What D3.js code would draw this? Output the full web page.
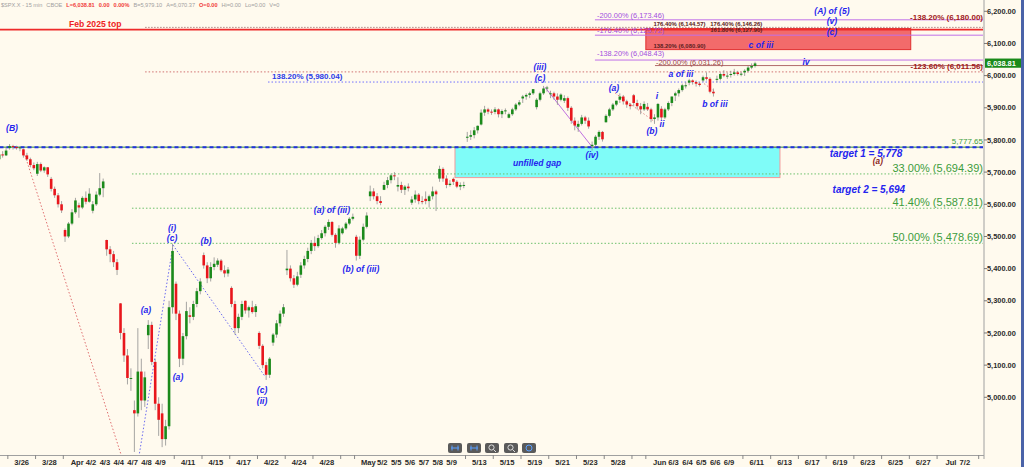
<!DOCTYPE html>
<html><head><meta charset="utf-8">
<script src="https://cdn.jsdelivr.net/npm/d3@7"></script>
<style>
html,body{margin:0;padding:0;background:#fffaee;overflow:hidden;}
svg{display:block;font-family:"Liberation Sans",Arial,sans-serif;}
</style></head><body>
<svg id="c" width="1024" height="467"></svg>
<script>
// ---------- DATA ----------
const tradingDays = ["3/24","3/25","3/26","3/27","3/28","3/31","4/1","4/2","4/3","4/4","4/7","4/8","4/9","4/10","4/11","4/14","4/15","4/16","4/17","4/21","4/22","4/23","4/24","4/25","4/28","4/29","4/30","5/1","5/2","5/5","5/6","5/7","5/8","5/9","5/12","5/13","5/14","5/15","5/16","5/19","5/20","5/21","5/22","5/23","5/27","5/28","5/29","5/30","6/2","6/3","6/4","6/5","6/6","6/9","6/10","6/11","6/12","6/13","6/16","6/17","6/18","6/19","6/20","6/23","6/24","6/25","6/26","6/27","6/30","7/1","7/2","7/3"];
const xLabelDays = ["3/26","3/28","4/1","4/2","4/3","4/4","4/7","4/8","4/9","4/11","4/15","4/17","4/22","4/24","4/28","5/1","5/2","5/5","5/6","5/7","5/8","5/9","5/13","5/15","5/19","5/21","5/23","5/28","6/2","6/3","6/4","6/5","6/6","6/9","6/11","6/13","6/17","6/19","6/23","6/25","6/27","7/1","7/2"];
const xLabelText = ["3/26","3/28","Apr","4/2","4/3","4/4","4/7","4/8","4/9","4/11","4/15","4/17","4/22","4/24","4/28","May","5/2","5/5","5/6","5/7","5/8","5/9","5/13","5/15","5/19","5/21","5/23","5/28","Jun","6/3","6/4","6/5","6/6","6/9","6/11","6/13","6/17","6/19","6/23","6/25","6/27","Jul","7/2"];
const yTicks = [5000,5100,5200,5300,5400,5500,5600,5700,5800,5900,6000,6100,6200];
const lastPrice = 6038.81;

// sessions: day, open, bars [high, low, close]
const sessionDays = ["3/24","3/25","3/26","3/27","3/28","3/31","4/1","4/2","4/3","4/4","4/7","4/8","4/9","4/10","4/11","4/14","4/15","4/16","4/17","4/21","4/22","4/23","4/24","4/25","4/28","4/29","4/30","5/1","5/2","5/5","5/6","5/7","5/8","5/9","5/12","5/13","5/14","5/15","5/16","5/19","5/20","5/21","5/22","5/23","5/27","5/28","5/29","5/30","6/2","6/3","6/4","6/5","6/6","6/9","6/10"];
const sessionOpens = [5740,5775,5771,5695,5679,5520,5597,5580,5489,5292,4960,5193,4950,5353,5255,5442,5412,5340,5300,5200,5170,5395,5381,5480,5530,5510,5499,5625,5645,5655,5605,5617,5680,5679,5808,5848,5887,5869,5929,5902,5944,5922,5841,5781,5855,5925,5939,5903,5897,5938,5978,5985,5987,6005,6010];
const sessionBars = [
 [[5745,5715,5740],[5760,5735,5755],[5765,5745,5752],[5775,5750,5767]],
 [[5787,5770,5781],[5785,5770,5778],[5782,5770,5775],[5780,5765,5777]],
 [[5773,5745,5752],[5760,5735,5740],[5745,5715,5722],[5730,5706,5712]],
 [[5732,5688,5725],[5730,5700,5705],[5718,5698,5715],[5716,5685,5693]],
 [[5685,5640,5648],[5655,5620,5628],[5635,5590,5600],[5610,5573,5581]],
 [[5525,5483,5500],[5545,5495,5540],[5585,5535,5575],[5620,5570,5612]],
 [[5605,5558,5590],[5625,5585,5620],[5640,5600,5608],[5650,5605,5633]],
 [[5610,5572,5600],[5640,5595,5630],[5697,5625,5650],[5680,5622,5671]],
 [[5490,5440,5460],[5470,5420,5445],[5455,5405,5420],[5430,5380,5396]],
 [[5293,5180,5200],[5215,5110,5130],[5150,5040,5060],[5090,5020,5060]],
 [[4990,4830,4950],[5215,4940,5080],[5120,4960,4990],[5080,4970,5062]],
 [[5240,5150,5225],[5235,5100,5110],[5120,4960,4980],[5000,4880,4930]],
 [[4980,4845,4870],[4930,4850,4910],[5300,4900,5280],[5478,5260,5455]],
 [[5360,5240,5260],[5270,5094,5120],[5200,5100,5190],[5297,5180,5268]],
 [[5280,5230,5250],[5300,5240,5290],[5340,5280,5330],[5370,5320,5360]],
 [[5450,5400,5410],[5420,5355,5370],[5420,5360,5405],[5435,5395,5415]],
 [[5432,5405,5425],[5430,5390,5395],[5410,5373,5385],[5405,5375,5397]],
 [[5345,5280,5290],[5300,5195,5215],[5260,5200,5250],[5300,5240,5290]],
 [[5301,5260,5270],[5285,5248,5280],[5300,5260,5265],[5290,5250,5283]],
 [[5205,5150,5160],[5165,5090,5100],[5110,5054,5070],[5125,5060,5120]],
 [[5200,5160,5195],[5240,5185,5230],[5270,5220,5260],[5290,5250,5280]],
 [[5458,5380,5400],[5410,5360,5370],[5380,5340,5350],[5390,5345,5376]],
 [[5420,5371,5410],[5440,5400,5430],[5465,5420,5455],[5489,5445,5480]],
 [[5500,5455,5470],[5505,5465,5495],[5520,5490,5510],[5535,5500,5530]],
 [[5553,5520,5545],[5548,5500,5505],[5510,5465,5480],[5535,5475,5525]],
 [[5530,5506,5525],[5545,5520,5540],[5560,5535,5555],[5571,5550,5561]],
 [[5505,5425,5440],[5500,5430,5490],[5540,5485,5530],[5575,5525,5565]],
 [[5658,5610,5640],[5650,5615,5625],[5635,5600,5610],[5625,5597,5604]],
 [[5670,5644,5660],[5685,5650,5675],[5695,5665,5690],[5700,5675,5687]],
 [[5684,5640,5660],[5670,5635,5645],[5660,5629,5655],[5665,5640,5650]],
 [[5625,5598,5615],[5643,5605,5630],[5635,5600,5610],[5625,5600,5607]],
 [[5640,5600,5610],[5630,5590,5625],[5655,5615,5640],[5645,5579,5631]],
 [[5720,5670,5710],[5715,5670,5680],[5690,5650,5660],[5675,5655,5664]],
 [[5683,5660,5670],[5675,5650,5655],[5668,5644,5660],[5670,5650,5660]],
 [[5825,5794,5810],[5830,5800,5815],[5840,5805,5830],[5845,5820,5844]],
 [[5895,5845,5885],[5906,5875,5895],[5900,5880,5888],[5895,5878,5887]],
 [[5902,5880,5895],[5898,5870,5880],[5895,5868,5890],[5898,5880,5892]],
 [[5885,5867,5880],[5900,5875,5895],[5915,5890,5910],[5924,5905,5917]],
 [[5940,5915,5935],[5945,5925,5940],[5950,5930,5945],[5958,5940,5958]],
 [[5930,5895,5925],[5950,5920,5945],[5968,5940,5960],[5968,5950,5963]],
 [[5953,5930,5945],[5950,5925,5935],[5945,5909,5925],[5945,5920,5941]],
 [[5939,5915,5930],[5935,5890,5900],[5905,5850,5860],[5870,5830,5845]],
 [[5860,5825,5850],[5878,5845,5870],[5875,5850,5860],[5870,5835,5842]],
 [[5795,5767,5785],[5815,5780,5810],[5830,5800,5825],[5828,5795,5802]],
 [[5880,5854,5875],[5900,5870,5895],[5915,5890,5910],[5922,5905,5922]],
 [[5945,5915,5935],[5940,5910,5920],[5925,5900,5910],[5915,5895,5905]],
 [[5943,5905,5915],[5925,5895,5905],[5915,5880,5895],[5920,5890,5912]],
 [[5915,5890,5895],[5900,5855,5865],[5880,5850,5870],[5915,5860,5912]],
 [[5905,5862,5870],[5900,5865,5895],[5920,5890,5915],[5935,5905,5935]],
 [[5950,5921,5945],[5960,5935,5955],[5975,5950,5970],[5981,5960,5970]],
 [[5990,5970,5985],[5988,5972,5980],[5985,5966,5975],[5980,5966,5971]],
 [[6000,5980,5995],[6010,5985,5990],[5995,5945,5950],[5960,5935,5945]],
 [[6000,5979,5990],[6010,5985,6005],[6017,5995,6000],[6010,5990,6000]],
 [[6015,5994,6005],[6021,6000,6010],[6015,6000,6005],[6012,5998,6006]],
 [[6020,5999,6015],[6030,6010,6025],[6038,6020,6030],[6043,6025,6038]]
];

// horizontal levels: value, start (day-index units), kind
const levelValues = [6173.46,6125.72,6048.43,6031.26,6150,6143,6011.56,5980.04,5777.65,5694.39,5587.81,5478.69];
const levelStarts = [43.33,43.33,43.33,47.66,10.9,0.4,10.9,19.76,0.4,9.95,9.95,9.95];
const levelKinds  = ["purple","purple","purple","brown","grayDot","febTop","redDot","blueDot","gap","greenDot","greenDot","greenDot"];
const levelLabels = ["-200.00% (6,173.46)","-176.40% (6,125.72)","-138.20% (6,048.43)","-200.00% (6,031.26)","","","-123.60% (6,011.56)","138.20% (5,980.04)","5,777.65","33.00% (5,694.39)","41.40% (5,587.81)","50.00% (5,478.69)"];

// zones: [t0, t1, top, bottom]
const gapZone = [33.24, 56.67, 5777.65, 5683];
const resistZone = [47.0, 66.1, 6146.26, 6080.9];

// trend lines: [t0,p0,t1,p1,kind]
const trendLines = [
 [2.24,5752,9.4,4790,"red"],
 [10.45,4815,12.91,5473,"blue"],
 [12.91,5473,19.49,5068,"blue"],
 [39.73,5964,43.19,5775,"purple"],
 [44.78,5946,47.66,5856,"pink"],
 [51.2,5975,52.0,5950,"pink"]
];

// wave labels: text, t, price
const waveText  = ["(B)","(a)","(i)","(c)","(b)","(a)","(c)","(ii)","(a) of (iii)","(b) of (iii)","(iii)","(c)","(iv)","(a)","(b)","i","ii","a of iii","b of iii","c of iii","iv","(A) of (5)","(v)","(c)"];
const waveT     = [1.30,10.96,12.84,12.84,15.29,13.27,19.33,19.33,24.37,26.46,39.37,39.37,43.12,44.7,47.44,47.8,48.16,49.53,51.98,55.3,58.55,60.42,60.42,60.42];
const waveP     = [5837,5271,5526,5495,5486,5063,5022,4990,5582,5399,6027,5993,5753,5962,5828,5937,5850,6005,5912,6095,6042,6201,6170,6136];

// header pieces
const hdrText = ["$SPX.X - 15 min","CBOE","L=6,038.81","0.00","0.00%","B=5,979.10","A=6,070.37","O=0.00","Hi=0.00","Lo=0.00","V=0"];
const hdrRed  = [false,false,true,true,true,false,false,true,false,false,false];

// ---------- DRAW ----------
const svg = d3.select("#c");
const PR = 983, PB = 455;
const x = d3.scaleLinear().domain([0.4355, 71.31]).range([0, PR]);
const y = d3.scaleLinear().domain([4820.6, 6235.1]).range([PB, 0]);
const di = d => tradingDays.indexOf(d);

svg.append("rect").attr("width",1024).attr("height",467).attr("fill","#fffaee");
svg.append("defs").append("clipPath").attr("id","clip").append("rect").attr("width",PR).attr("height",PB);
const plot = svg.append("g").attr("clip-path","url(#clip)");

// zones
plot.append("rect").attr("x",x(gapZone[0])).attr("width",x(gapZone[1])-x(gapZone[0]))
  .attr("y",y(gapZone[2])).attr("height",y(gapZone[3])-y(gapZone[2]))
  .attr("fill","#7ffcf8").attr("stroke","#f29a9a").attr("stroke-width",1);
plot.append("rect").attr("x",x(resistZone[0])).attr("width",x(resistZone[1])-x(resistZone[0]))
  .attr("y",y(resistZone[2])).attr("height",y(resistZone[3])-y(resistZone[2]))
  .attr("fill","#f26b6b").attr("stroke","#e03030").attr("stroke-width",1);

// levels
const styles = {
  purple:{c:"#c070e8",w:1,d:null},
  brown:{c:"#b06a6a",w:1,d:null},
  grayDot:{c:"#b08080",w:1,d:"1.5,1.5"},
  febTop:{c:"#ee2a2a",w:1.6,d:null},
  redDot:{c:"#d07070",w:1,d:"1.5,2"},
  blueDot:{c:"#7070ff",w:1,d:"1.5,2"},
  greenDot:{c:"#6cc06c",w:1,d:"1.5,2"}
};
levelValues.forEach((v,i)=>{
  const k = levelKinds[i];
  if(k==="gap"){
    plot.append("line").attr("x1",x(levelStarts[i])).attr("x2",PR).attr("y1",y(v)).attr("y2",y(v))
      .attr("stroke","#2e8b2e").attr("stroke-width",1);
    plot.append("line").attr("x1",x(levelStarts[i])).attr("x2",PR).attr("y1",y(v)).attr("y2",y(v))
      .attr("stroke","#2030e0").attr("stroke-width",2).attr("stroke-dasharray","4,3");
    return;
  }
  const s = styles[k];
  plot.append("line").attr("x1",x(levelStarts[i])).attr("x2",PR).attr("y1",y(v)).attr("y2",y(v))
    .attr("stroke",s.c).attr("stroke-width",s.w).attr("stroke-dasharray",s.d);
});

// trend lines
const tlStyle = {red:["#e07070","1.5,2"],blue:["#6a6af0","1.5,2"],purple:["#c070e0",null],pink:["#e08a8a","1.5,2"]};
trendLines.forEach(l=>{
  plot.append("line").attr("x1",x(l[0])).attr("y1",y(l[1])).attr("x2",x(l[2])).attr("y2",y(l[3]))
    .attr("stroke",tlStyle[l[4]][0]).attr("stroke-width",1).attr("stroke-dasharray",tlStyle[l[4]][1]);
});

// candles
const bars = [];
sessionDays.forEach((d,i)=>{
  let o = sessionOpens[i]; const k = sessionBars[i]; const idx = di(d);
  k.forEach((b,j)=>{ bars.push({t: idx + (j+0.5)/k.length, o, h:b[0], l:b[1], c:b[2]}); o = b[2]; });
});
const cg = plot.append("g");
cg.selectAll("line.w").data(bars).join("line").attr("class","w")
  .attr("x1",d=>x(d.t)).attr("x2",d=>x(d.t))
  .attr("y1",d=>y(Math.max(d.h,d.o,d.c))).attr("y2",d=>y(Math.min(d.l,d.o,d.c)))
  .attr("stroke","#8f8f8f").attr("stroke-width",0.8);
cg.selectAll("rect.b").data(bars).join("rect").attr("class","b")
  .attr("x",d=>x(d.t)-1.3).attr("width",2.6)
  .attr("y",d=>y(Math.max(d.o,d.c))).attr("height",d=>Math.max(1,Math.abs(y(d.o)-y(d.c))))
  .attr("fill",d=>d.c>=d.o?"#1b8a1b":"#e8161c");

// level labels
const lab = svg.append("g");
levelValues.forEach((v,i)=>{
  const t = levelLabels[i]; if(!t) return;
  const k = levelKinds[i];
  if(k==="purple"){
    lab.append("text").attr("x",x(levelStarts[i])+2).attr("y",y(v)-(i===2?4.4:2.2)).text(t)
      .attr("font-size",7.4).attr("fill","#a24ee0");
  } else if(k==="brown"){
    lab.append("text").attr("x",x(levelStarts[i])+1).attr("y",y(v)-0.8).text(t)
      .attr("font-size",7.4).attr("fill","#9b4848");
  } else if(k==="redDot"){
    lab.append("text").attr("x",PR).attr("y",y(v)-3).attr("text-anchor","end").text(t)
      .attr("font-size",8).attr("font-weight","bold").attr("fill","#a01818");
  } else if(k==="blueDot"){
    lab.append("text").attr("x",x(levelStarts[i])+4).attr("y",y(v)-3).text(t)
      .attr("font-size",8).attr("font-weight","bold").attr("fill","#2a3ae8");
  } else if(k==="gap"){
    lab.append("text").attr("x",PR).attr("y",y(v)-3).attr("text-anchor","end").text(t)
      .attr("font-size",8).attr("fill","#3a9a3a");
  } else if(k==="greenDot"){
    lab.append("text").attr("x",PR).attr("y",y(v)-2).attr("text-anchor","end").text(t)
      .attr("font-size",11).attr("fill","#3c9c3c");
  }
});
// top-right level label
lab.append("text").attr("x",PR).attr("y",y(6180)+2).attr("text-anchor","end").text("-138.20% (6,180.00)")
  .attr("font-size",8).attr("font-weight","bold").attr("fill","#a01818");
// Feb top label
lab.append("text").attr("x",x(7.3)).attr("y",y(6143)-3).attr("text-anchor","middle").text("Feb 2025 top")
  .attr("font-size",8.6).attr("font-weight","bold").attr("fill","#ee2222");
// small zone texts
const zt = [["176.40% (6,144.57)",47.55,6155],["176.40% (6,146.26)",51.65,6155],["161.80% (6,127.90)",51.65,6136],["138.20% (6,080.90)",47.55,6086]];
zt.forEach(z=>lab.append("text").attr("x",x(z[1])).attr("y",y(z[2])).text(z[0])
  .attr("font-size",5.3).attr("font-weight","bold").attr("fill","#5a2020")
  .attr("textLength",52).attr("lengthAdjust","spacingAndGlyphs"));

// wave labels
waveText.forEach((t,i)=>{
  lab.append("text").attr("x",x(waveT[i])).attr("y",y(waveP[i])).attr("dy","0.35em")
    .attr("text-anchor","middle").text(t)
    .attr("font-size",8.6).attr("font-weight","bold").attr("font-style","italic").attr("fill","#2424ee");
});
lab.append("text").attr("x",x(39.16)).attr("y",y(5728)).attr("dy","0.35em").attr("text-anchor","middle")
  .text("unfilled gap").attr("font-size",8.6).attr("font-weight","bold").attr("font-style","italic").attr("fill","#2424ee");
lab.append("text").attr("x",x(62.87)).attr("y",y(5759)).attr("dy","0.35em").attr("text-anchor","middle")
  .text("target 1 = 5,778").attr("font-size",10).attr("font-weight","bold").attr("font-style","italic").attr("fill","#2424ee");
lab.append("text").attr("x",x(63.08)).attr("y",y(5647)).attr("dy","0.35em").attr("text-anchor","middle")
  .text("target 2 = 5,694").attr("font-size",10).attr("font-weight","bold").attr("font-style","italic").attr("fill","#2424ee");
lab.append("text").attr("x",x(63.73)).attr("y",y(5734)).attr("dy","0.35em").attr("text-anchor","middle")
  .text("(a)").attr("font-size",8.2).attr("font-weight","bold").attr("font-style","italic").attr("fill","#8a1a1a");

// ---------- AXES ----------
svg.append("line").attr("x1",PR+1).attr("x2",PR+1).attr("y1",0).attr("y2",459).attr("stroke","#a0a0a0");
const ra = svg.append("g");
yTicks.forEach(v=>{
  ra.append("line").attr("x1",PR+1).attr("x2",PR+4).attr("y1",y(v)).attr("y2",y(v)).attr("stroke","#777");
  ra.append("text").attr("x",PR+4).attr("y",y(v)).attr("dy","0.35em").text(d3.format(",.2f")(v))
    .attr("font-size",7.4).attr("font-weight","bold").attr("fill","#2a2a2a");
});
ra.append("rect").attr("x",PR+2).attr("y",y(lastPrice)-4.6).attr("width",36).attr("height",9.2).attr("fill","#1a8a1a");
ra.append("text").attr("x",PR+4).attr("y",y(lastPrice)).attr("dy","0.35em").text(d3.format(",.2f")(lastPrice))
  .attr("font-size",7.4).attr("font-weight","bold").attr("fill","#ffffff");
svg.append("rect").attr("x",1021).attr("y",0).attr("width",3).attr("height",467).attr("fill","#4a63a8");

// bottom axis
svg.append("line").attr("x1",0).attr("x2",PR+1).attr("y1",PB+0.5).attr("y2",PB+0.5).attr("stroke","#a0a0a0");
const ba = svg.append("g");
tradingDays.forEach((d,i)=>{
  if(xLabelDays.includes(d)) return;
  const xx = x(i); if(xx<0||xx>PR) return;
  ba.append("line").attr("x1",xx).attr("x2",xx).attr("y1",PB).attr("y2",PB+4).attr("stroke","#888");
});
xLabelDays.forEach((d,i)=>{
  ba.append("text").attr("x",x(di(d))).attr("y",465).attr("text-anchor","middle").text(xLabelText[i])
    .attr("font-size",7.6).attr("font-weight","bold").attr("fill","#2a2a2a");
});

// toolbar buttons
const btnX = [448,467,485,504,522];
btnX.forEach((bx,i)=>{
  svg.append("rect").attr("x",bx).attr("y",443).attr("width",14).attr("height",10).attr("rx",2).attr("fill","#5a5a5a");
  const ic = i<2 ? "#5aa0ff" : "#dddddd";
  if(i<2){
    svg.append("line").attr("x1",bx+3).attr("x2",bx+11).attr("y1",448).attr("y2",448).attr("stroke",ic);
    svg.append("line").attr("x1",bx+4).attr("x2",bx+4).attr("y1",445.5).attr("y2",450.5).attr("stroke",ic);
    svg.append("line").attr("x1",bx+10).attr("x2",bx+10).attr("y1",445.5).attr("y2",450.5).attr("stroke",ic);
  } else if(i<4){
    svg.append("circle").attr("cx",bx+6.5).attr("cy",447.5).attr("r",2.6).attr("fill","none").attr("stroke",ic);
    svg.append("line").attr("x1",bx+8.5).attr("x2",bx+11).attr("y1",449.5).attr("y2",452).attr("stroke",ic);
  } else {
    svg.append("circle").attr("cx",bx+7).attr("cy",448).attr("r",3).attr("fill","none").attr("stroke","#5aa0ff");
  }
});

// header (laid out sequentially)
let hx = 1;
hdrText.forEach((t,i)=>{
  const el = svg.append("text").attr("x",hx).attr("y",6.5).text(t).attr("font-size",5.6)
    .attr("fill",hdrRed[i]?"#f03c3c":"#a0a0a0").attr("font-weight",hdrRed[i]?"bold":"normal");
  hx += el.node().getComputedTextLength() + 4;
});
</script>
</body></html>
